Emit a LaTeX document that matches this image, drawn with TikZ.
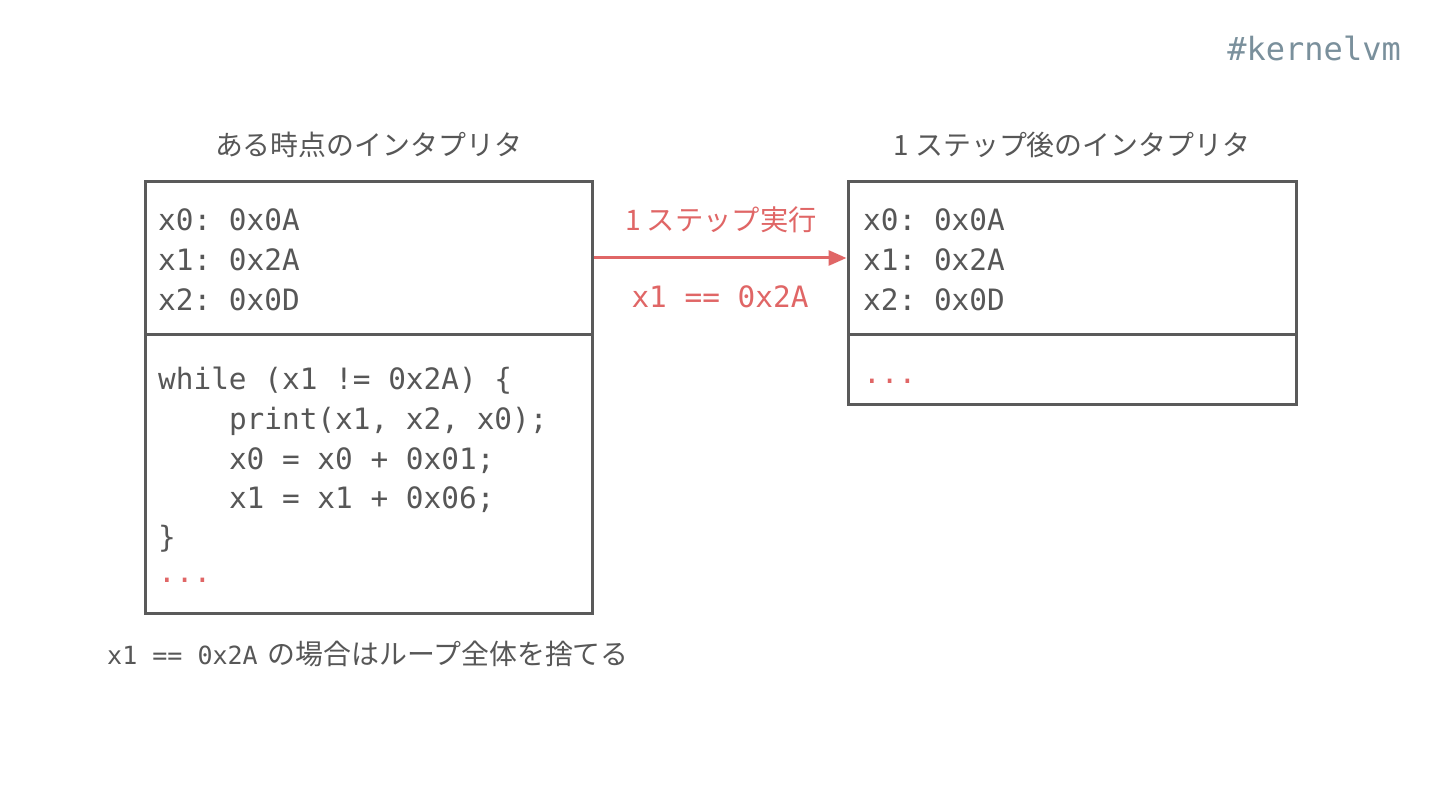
\documentclass[tikz,border=0pt]{standalone}
\usepackage{fontspec}
\setmonofont{DejaVu Sans Mono}
\newfontfamily\jp{Noto Sans CJK JP}
\usetikzlibrary{arrows.meta}
\definecolor{txt}{HTML}{575757}
\definecolor{edge}{HTML}{5A5A5A}
\definecolor{accent}{HTML}{E06666}
\definecolor{tag}{HTML}{7A909C}
\tikzset{
  box/.style={draw=edge, line width=3pt, inner sep=0pt, fill=white},
  code/.style={anchor=base west, inner sep=0pt, text=txt, font=\ttfamily\fontsize{29.4}{36}\selectfont},
  redcode/.style={code, text=accent},
  title/.style={anchor=base, inner sep=0pt, text=txt, font=\jp\fontsize{27.9}{32}\selectfont},
  flow/.style={draw=accent, line width=3pt, -{Triangle[length=18pt,width=15pt]}},
}
\begin{document}
\begin{tikzpicture}[x=1pt,y=-1pt]
\useasboundingbox[fill=white] (0,0) rectangle (1440,810);
% tag
\node[anchor=base east, inner sep=0pt, text=tag, font=\ttfamily\fontsize{32}{36}\selectfont] (tag) at (1401,61) {\#kernelvm};
% titles
\node[title] (t1) at (368.5,156) {ある時点のインタプリタ};
\node[title] (t2) at (1072,156) {1\hspace{6pt}ステップ後のインタプリタ};
% boxes
\node[box, minimum width=447pt, minimum height=152pt] (lt) at (368.5,258) {};
\node[box, minimum width=447pt, minimum height=279pt] (lb) at (368.5,473.5) {};
\node[box, minimum width=448pt, minimum height=152pt] (rt) at (1072,258) {};
\node[box, minimum width=448pt, minimum height=70pt] (rb) at (1072,369) {};
% left registers
\node[code] (l1) at (158,231) {x0: 0x0A};
\node[code] (l2) at (158,271) {x1: 0x2A};
\node[code] (l3) at (158,310) {x2: 0x0D};
% left code
\node[code] (c1) at (158,389) {while (x1 != 0x2A) \{};
\node[code] (c2) at (158,429) {\phantom{xxxx}print(x1, x2, x0);};
\node[code] (c3) at (158,469) {\phantom{xxxx}x0 = x0 + 0x01;};
\node[code] (c4) at (158,508) {\phantom{xxxx}x1 = x1 + 0x06;};
\node[code] (c5) at (158,547) {\}};
\node[redcode] (c6) at (158,582) {...};
% right registers
\node[code] (r1) at (863,231) {x0: 0x0A};
\node[code] (r2) at (863,271) {x1: 0x2A};
\node[code] (r3) at (863,310) {x2: 0x0D};
\node[redcode] (r4) at (863,383) {...};
% arrow
\draw[flow] (lt.east) -- (rt.west);
\node[anchor=base, inner sep=0pt, text=accent, font=\jp\fontsize{28.3}{32}\selectfont] (a1) at (721,231) {1\hspace{6pt}ステップ実行};
\node[anchor=base, inner sep=0pt, text=accent, font=\ttfamily\fontsize{29.4}{36}\selectfont] (a2) at (720,308) {x1 == 0x2A};
% caption
\node[anchor=base west, inner sep=0pt, text=txt] (cap) at (107,664) {{\ttfamily\fontsize{25}{30}\selectfont x1 == 0x2A}\hspace{10pt}{\jp\fontsize{27.9}{32}\selectfont の場合はループ全体を捨てる}};
\end{tikzpicture}
\end{document}
